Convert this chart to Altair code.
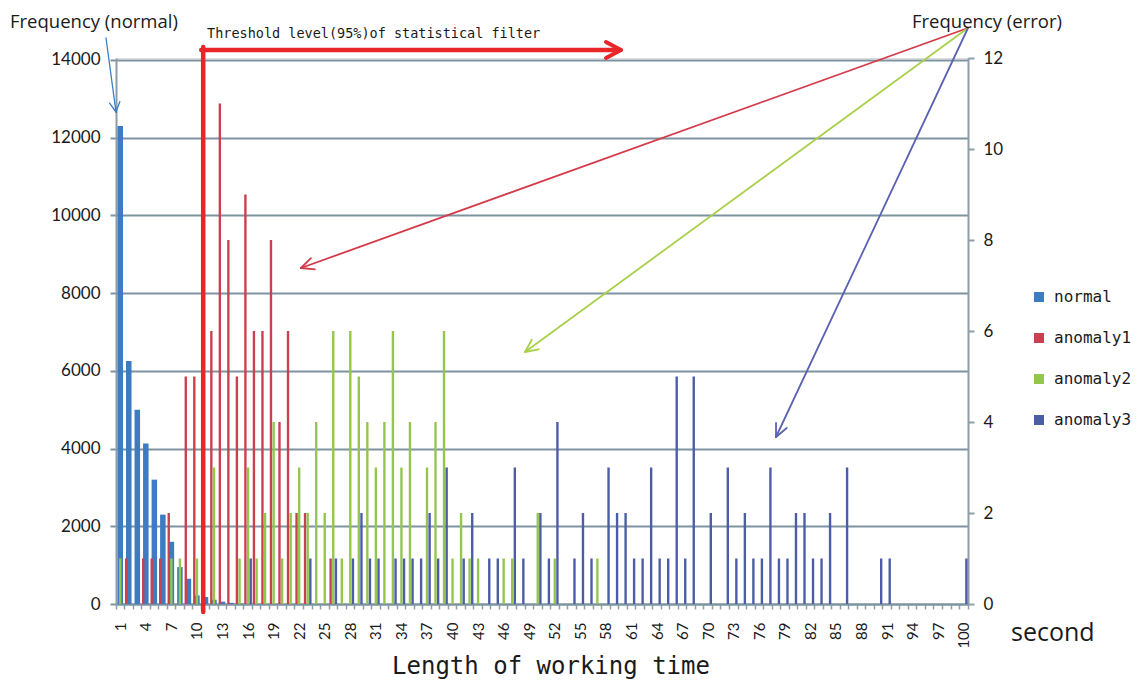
import math
import altair as alt
import pandas as pd

# ---------------- data ----------------
categories = list(range(1, 101))
series_names = ["normal", "anomaly1", "anomaly2", "anomaly3"]
series_colors = ["#3d7cc2", "#c9404e", "#94c64e", "#4c5da8"]

normal_seconds = [1, 2, 3, 4, 5, 6, 7, 8, 9, 10, 11, 12, 13, 14, 15]
normal_values = [12300, 6250, 5000, 4130, 3200, 2300, 1600, 950, 650, 220, 180, 110, 60, 30, 15]

anomaly1_seconds = [2, 4, 5, 6, 7, 9, 10, 11, 12, 13, 14, 15, 16, 17, 18, 19, 20, 21, 22, 23, 26]
anomaly1_values = [1, 1, 1, 1, 2, 5, 5, 7, 6, 11, 8, 5, 9, 6, 6, 8, 4, 6, 2, 2, 1]

anomaly2_seconds = [1, 7, 8, 10, 12, 15, 16, 17, 18, 19, 20, 21, 22, 23, 24, 25, 26, 27, 28, 29,
                    30, 31, 32, 33, 34, 35, 37, 38, 39, 40, 41, 42, 43, 46, 47, 50, 52, 57]
anomaly2_values = [1, 1, 1, 1, 3, 1, 3, 1, 2, 4, 1, 2, 3, 2, 4, 2, 6, 1, 6, 5,
                   4, 3, 4, 6, 3, 4, 3, 4, 6, 1, 2, 1, 1, 1, 1, 2, 1, 1]

anomaly3_seconds = [16, 23, 26, 28, 29, 30, 31, 33, 34, 35, 36, 37, 38, 39, 41, 42, 44, 45, 47, 48,
                    50, 51, 52, 54, 55, 56, 58, 59, 60, 61, 62, 63, 64, 65, 66, 67, 68, 70, 72, 73,
                    74, 75, 76, 77, 78, 79, 80, 81, 82, 83, 84, 86, 90, 91, 100]
anomaly3_values = [1, 1, 1, 1, 2, 1, 1, 1, 1, 1, 1, 2, 1, 3, 1, 2, 1, 1, 3, 1,
                   2, 1, 4, 1, 2, 1, 3, 2, 2, 1, 1, 3, 1, 1, 5, 1, 5, 2, 3, 1,
                   2, 1, 1, 3, 1, 1, 2, 2, 1, 1, 2, 3, 1, 1, 1]

left_ticks = [0, 2000, 4000, 6000, 8000, 10000, 12000, 14000]
right_ticks = [0, 2, 4, 6, 8, 10, 12]
threshold_second = 10

# ---------------- tables ----------------
normal_df = pd.DataFrame({"second": normal_seconds, "count": normal_values, "series": "normal"})
anom_rows = []
for name, secs, vals in [("anomaly1", anomaly1_seconds, anomaly1_values),
                         ("anomaly2", anomaly2_seconds, anomaly2_values),
                         ("anomaly3", anomaly3_seconds, anomaly3_values)]:
    for s, v in zip(secs, vals):
        anom_rows.append({"second": s, "count": v, "series": name})
anom_df = pd.DataFrame(anom_rows)

# ---------------- layout constants ----------------
W, H = 852, 546
OX, OY = 116, 58          # page position of plot origin
GRID = "#7d939f"
AXIS = "#8d9ea8"
TXT = "#1a1a1a"

color_enc = alt.Color(
    "series:N",
    scale=alt.Scale(domain=series_names, range=series_colors),
    legend=alt.Legend(
        title=None, orient="none", legendX=915, legendY=231,
        symbolType="square", symbolSize=100, symbolStrokeWidth=0,
        labelFont="DejaVu Sans Mono", labelFontSize=16, labelColor=TXT,
        labelOffset=7, rowPadding=25, padding=0,
    ),
)

x_enc = alt.X(
    "second:O",
    scale=alt.Scale(domain=categories, paddingInner=0.1, paddingOuter=0.05),
    axis=alt.Axis(
        title=None, labelAngle=270, labelFont="Lato", labelFontSize=15, labelColor=TXT,
        labelExpr="(datum.value - 1) % 3 == 0 ? datum.label : ''", labelOverlap=False,
        tickBand="extent", tickSize=5, tickColor=AXIS, tickWidth=1.5,
        labelPadding=13, domainColor=GRID, domainWidth=2,
    ),
)

normal_bars = alt.Chart(normal_df).mark_bar(width=alt.RelativeBandSize(0.72)).encode(
    x=x_enc,
    y=alt.Y(
        "count:Q",
        scale=alt.Scale(domain=[0, 14050], nice=False),
        axis=alt.Axis(
            orient="left", values=left_ticks, format="d", title=None, grid=True, gridColor=GRID, gridWidth=2,
            domainColor=AXIS, domainWidth=2, tickSize=6, tickColor=GRID, tickWidth=2,
            labelFont="Lato", labelFontSize=17, labelColor=TXT, labelPadding=10,
        ),
    ),
    color=color_enc,
)

anom_bars = alt.Chart(anom_df).mark_bar().encode(
    x=x_enc,
    xOffset=alt.XOffset("series:N", scale=alt.Scale(domain=["anomaly1", "anomaly2", "anomaly3"], paddingInner=0.1)),
    y=alt.Y(
        "count:Q",
        scale=alt.Scale(domain=[0, 12], nice=False),
        axis=alt.Axis(
            orient="right", values=right_ticks, title=None, grid=False,
            domainColor=AXIS, domainWidth=2, tickSize=6, tickColor=AXIS, tickWidth=2,
            labelFont="Lato", labelFontSize=17, labelColor=TXT, labelPadding=9,
        ),
    ),
    color=color_enc,
)

# ---------------- annotations (page coordinates) ----------------
def head(tip, tail, length=13, spread=27):
    dx, dy = tail[0] - tip[0], tail[1] - tip[1]
    n = math.hypot(dx, dy)
    ux, uy = dx / n, dy / n
    out = []
    for sgn in (1, -1):
        a = math.radians(spread * sgn)
        rx = ux * math.cos(a) - uy * math.sin(a)
        ry = ux * math.sin(a) + uy * math.cos(a)
        out.append((tip, (tip[0] + rx * length, tip[1] + ry * length)))
    return out

thr_x = OX + threshold_second * W / len(categories) + 2
segs = []  # (p1, p2, color, width)
red_thick = "#e8262a"
segs.append(((thr_x, 47), (thr_x, 612), red_thick, 4.5))
segs.append(((thr_x - 2, 50), (619, 50), red_thick, 4.5))
for a, b in head((621, 50), (560, 50), length=17, spread=28):
    segs.append((a, b, red_thick, 4))

src = (968, 28)
for tip, col in [((301, 268), "#d33b4b"), ((525, 352), "#a9d04a"), ((776, 437), "#5a62b2")]:
    segs.append((src, tip, col, 1.8))
    for a, b in head(tip, src, length=14, spread=25):
        segs.append((a, b, col, 1.8))

np_tip = (116, 112)
np_src = (106, 38)
segs.append((np_src, np_tip, "#3d7cc2", 1.3))
for a, b in head(np_tip, np_src, length=11, spread=28):
    segs.append((a, b, "#3d7cc2", 1.3))

ann_df = pd.DataFrame([
    {"x": p1[0] - OX, "y": p1[1] - OY, "x2": p2[0] - OX, "y2": p2[1] - OY, "c": c, "w": w}
    for p1, p2, c, w in segs
])

ann = alt.Chart(ann_df).mark_rule(strokeCap="round").encode(
    x=alt.X("x:Q", scale=None, axis=None),
    y=alt.Y("y:Q", scale=None, axis=None),
    x2="x2:Q",
    y2="y2:Q",
    stroke=alt.Stroke("c:N", scale=None),
    strokeWidth=alt.StrokeWidth("w:Q", scale=None),
)

def label(text, px, py, font, size, align="left"):
    return alt.Chart(pd.DataFrame({"t": [text]})).mark_text(
        font=font, fontSize=size, color=TXT, align=align, baseline="middle"
    ).encode(text="t:N", x=alt.value(px - OX), y=alt.value(py - OY))

texts = [
    label("Frequency (normal)", 10, 22, "Open Sans", 18.5),
    label("Frequency (error)", 912, 22, "Open Sans", 18.5),
    label("Threshold level(95%)of statistical filter", 207, 34, "DejaVu Sans Mono", 13.5),
    label("second", 1011, 633, "Open Sans", 25),
    label("Length of working time", 551, 667, "DejaVu Sans Mono", 24, align="center"),
]

chart = alt.layer(normal_bars, anom_bars, ann, *texts).resolve_scale(y="independent").properties(
    width=W, height=H,
    padding={"left": OX - 8, "top": OY - 8, "right": 1126 - (OX - 8) - W, "bottom": 672 - (OY - 8) - H},
    autosize=alt.AutoSizeParams(type="none"),
).configure_view(stroke=None).configure(background="white")

chart.save("out.html", embed_options={"renderer": "svg", "actions": False})
